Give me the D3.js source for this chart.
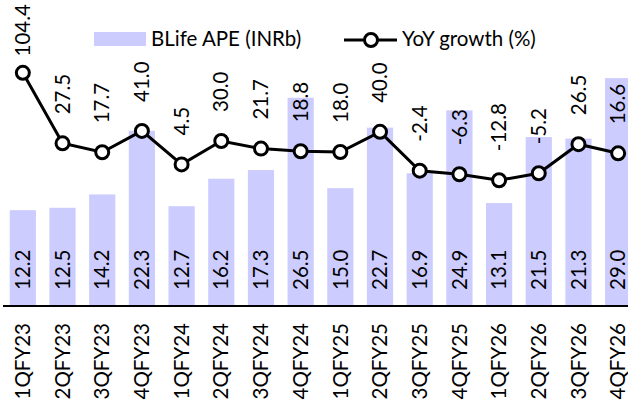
<!DOCTYPE html>
<html>
<head>
<meta charset="utf-8">
<script src="https://cdn.jsdelivr.net/npm/d3@7"></script>
<style>
	body { margin: 0; background: #fff; }
	svg { display: block; font-family: Lato, "Open Sans", sans-serif; }
</style>
</head>
<body>
<div id="chart"></div>
<script>
var quarters = ["1QFY23", "2QFY23", "3QFY23", "4QFY23", "1QFY24", "2QFY24", "3QFY24", "4QFY24",
	"1QFY25", "2QFY25", "3QFY25", "4QFY25", "1QFY26", "2QFY26", "3QFY26", "4QFY26"];
var apeValues = [12.2, 12.5, 14.2, 22.3, 12.7, 16.2, 17.3, 26.5, 15.0, 22.7, 16.9, 24.9, 13.1, 21.5, 21.3, 29.0];
var yoyGrowth = [104.4, 27.5, 17.7, 41.0, 4.5, 30.0, 21.7, 18.8, 18.0, 40.0, -2.4, -6.3, -12.8, -5.2, 26.5, 16.6];

var width = 628, height = 401;
var fontSize = 20.5;

var svg = d3.select("#chart").append("svg")
	.attr("width", width)
	.attr("height", height);

// scales
var x = d3.scaleBand()
	.domain(quarters)
	.range([3, 638])
	.paddingInner(0.34)
	.paddingOuter(0.17);
var yBar = d3.scaleLinear().domain([0, 35]).range([306, 31]);
var yLine = d3.scaleLinear().domain([-150, 150]).range([306, 31]);

// bars
svg.selectAll("rect.bar")
	.data(apeValues)
	.enter()
	.append("rect")
	.attr("class", "bar")
	.attr("x", (d, i) => x(quarters[i]))
	.attr("width", x.bandwidth())
	.attr("y", d => yBar(d))
	.attr("height", d => yBar(0) - yBar(d))
	.attr("fill", "#ccccff");

// bar value labels
svg.selectAll("text.barlabel")
	.data(apeValues)
	.enter()
	.append("text")
	.attr("class", "barlabel")
	.attr("transform", (d, i) => `translate(${x(quarters[i]) + x.bandwidth() / 2}, ${yBar(0) - 16}) rotate(-90)`)
	.attr("dy", "0.35em")
	.attr("font-size", fontSize)
	.text(d => d.toFixed(1));

// x axis
svg.append("g")
	.attr("transform", `translate(0, ${yBar(0)})`)
	.call(d3.axisBottom(x).tickSize(0).tickSizeOuter(0))
	.call(g => g.select(".domain").attr("stroke", "#000").attr("stroke-width", 2))
	.call(g => g.selectAll(".tick text")
		.attr("font-family", "Lato, 'Open Sans', sans-serif")
		.attr("font-size", fontSize)
		.attr("fill", "#000")
		.attr("transform", "rotate(-90)")
		.attr("text-anchor", "end")
		.attr("x", -17)
		.attr("y", 0)
		.attr("dy", "0.35em"));
svg.select(".domain").attr("d", `M3,0H${width}`);

// growth line
var line = d3.line()
	.x((d, i) => x(quarters[i]) + x.bandwidth() / 2)
	.y(d => yLine(d));
svg.append("path")
	.datum(yoyGrowth)
	.attr("fill", "none")
	.attr("stroke", "#000")
	.attr("stroke-width", 3)
	.attr("d", line);

svg.selectAll("circle.marker")
	.data(yoyGrowth)
	.enter()
	.append("circle")
	.attr("class", "marker")
	.attr("cx", (d, i) => x(quarters[i]) + x.bandwidth() / 2)
	.attr("cy", d => yLine(d))
	.attr("r", 6.5)
	.attr("fill", "#fff")
	.attr("stroke", "#000")
	.attr("stroke-width", 3);

// growth labels, kept inside the top of the chart
svg.selectAll("text.growthlabel")
	.data(yoyGrowth)
	.enter()
	.append("text")
	.attr("class", "growthlabel")
	.attr("dy", "0.35em")
	.attr("font-size", fontSize)
	.text(d => d.toFixed(1))
	.attr("transform", function (d, i) {
		var len = this.getComputedTextLength();
		var yPos = Math.max(yLine(d) - 29, 4 + len);
		return `translate(${x(quarters[i]) + x.bandwidth() / 2}, ${yPos}) rotate(-90)`;
	});

// legend
var legend = svg.append("g").attr("font-size", fontSize);
legend.append("rect")
	.attr("x", 94).attr("y", 32)
	.attr("width", 52).attr("height", 14)
	.attr("fill", "#ccccff");
legend.append("text")
	.attr("x", 151).attr("y", 39)
	.attr("dy", "0.35em")
	.text("BLife APE (INRb)");
legend.append("line")
	.attr("x1", 344).attr("x2", 397)
	.attr("y1", 40).attr("y2", 40)
	.attr("stroke", "#000")
	.attr("stroke-width", 3);
legend.append("circle")
	.attr("cx", 371).attr("cy", 40)
	.attr("r", 6.5)
	.attr("fill", "#fff")
	.attr("stroke", "#000")
	.attr("stroke-width", 3);
legend.append("text")
	.attr("x", 402).attr("y", 39)
	.attr("dy", "0.35em")
	.text("YoY growth (%)");
</script>
</body>
</html>
